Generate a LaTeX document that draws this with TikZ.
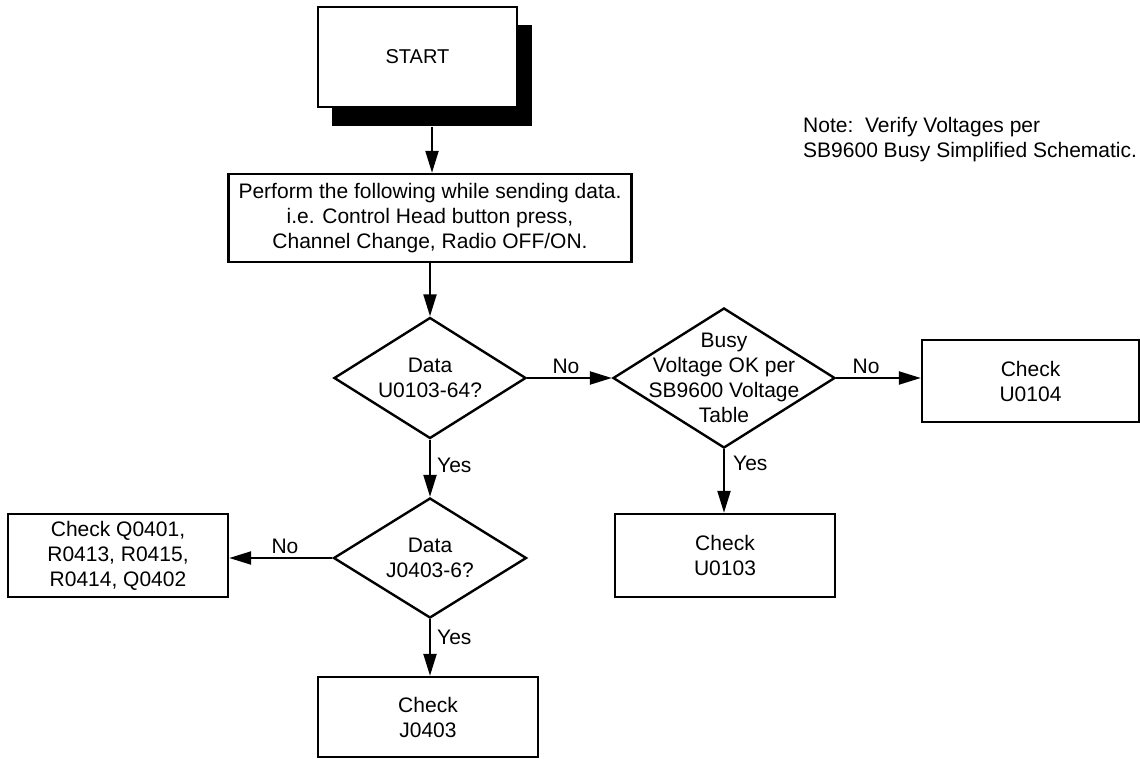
\documentclass[tikz,border=0pt]{standalone}
\usepackage{fontspec}
\setmainfont{Liberation Sans}
\usetikzlibrary{shapes.geometric,arrows.meta}
\begin{document}
\begin{tikzpicture}[x=1pt,y=-1pt,
  every node/.style={font=\fontsize{21}{25}\selectfont},
  box/.style={draw, line width=2.4pt, fill=white, minimum width=220pt, minimum height=83pt, inner sep=0pt, align=center},
  dia/.style={draw, diamond, line width=2.4pt, inner sep=0pt},
  txt/.style={align=center, inner sep=0pt},
  arr/.style={line width=2.2pt, -{Triangle[length=22pt,width=13pt]}},
  lbl/.style={inner sep=0pt}]
\useasboundingbox (0,0) rectangle (1140,759);

% START with shadow
\node[fill=black, minimum width=200pt, minimum height=101pt, inner sep=0pt] (startsh) at (432,76) {};
\node[draw, line width=2.4pt, fill=white, minimum width=199pt, minimum height=100pt, inner sep=0pt, font=\fontsize{20}{24}\selectfont] (start) at (417.5,57) {START};

% Perform box
\node[box, minimum width=403pt, minimum height=88pt] (perf) at (430,218)
  {Perform the following while sending data.\\i.e. Control Head button press,\\Channel Change, Radio OFF/ON.};

% Diamonds
\node[dia, minimum width=192pt, minimum height=121pt] (d1) at (430,378) {};
\node[txt] (d1t) at (d1) {Data\\U0103-64?};
\node[dia, minimum width=222pt, minimum height=140pt] (d2) at (724,378) {};
\node[txt] (d2t) at (d2) {Busy\\Voltage OK per\\SB9600 Voltage\\Table};
\node[dia, minimum width=193pt, minimum height=120pt] (d3) at (430,558) {};
\node[txt] (d3t) at (d3) {Data\\J0403-6?};

% Check boxes
\node[box] (q) at (118,555.5) {Check Q0401,\\R0413, R0415,\\R0414, Q0402};
\node[box, minimum height=80pt] (j) at (428,717) {Check\\J0403};
\node[box] (u103) at (725,555.5) {Check\\U0103};
\node[box, minimum width=217pt, minimum height=82pt] (u104) at (1030.5,381) {Check\\U0104};

% Note
\node[anchor=north west, align=left, inner sep=0pt] (note) at (803,117)
  {Note:\ \ Verify Voltages per\\SB9600 Busy Simplified Schematic.};

% Connectors
\draw[arr] (startsh.south) -- (startsh.south |- perf.north);
\draw[arr] (perf.south) -- (d1.north);
\draw[arr] (d1.east) -- (d2.west);
\draw[arr] (d2.east) -- (d2.east -| u104.west);
\draw[arr] (d2.south) -- (d2.south |- u103.north);
\draw[arr] (d1.south) -- (d3.north);
\draw[arr] (d3.west) -- (d3.west -| q.east);
\draw[arr] (d3.south) -- (d3.south |- j.north);

% Labels
\node[lbl, anchor=base] (no1) at (566,373) {No};
\node[lbl, anchor=base] (no2) at (866,373) {No};
\node[lbl, anchor=base] (no3) at (285,553) {No};
\node[lbl, anchor=west] (yes1) at (437,465) {Yes};
\node[lbl, anchor=west] (yes2) at (733,463) {Yes};
\node[lbl, anchor=west] (yes3) at (437,637) {Yes};
\end{tikzpicture}
\end{document}
